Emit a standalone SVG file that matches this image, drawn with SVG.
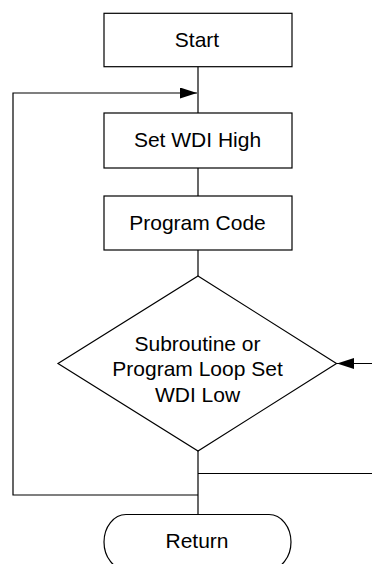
<svg xmlns="http://www.w3.org/2000/svg" width="372" height="564" viewBox="0 0 372 564">
<style>
.shape{fill:#fff;stroke:#000;stroke-width:1.2}
.conn{fill:none;stroke:#000;stroke-width:1.2}
.lbl{font-family:"Liberation Sans",Arial,sans-serif;font-size:21px;fill:#000;text-anchor:middle}
</style>
<defs>
<marker id="arr" markerWidth="18" markerHeight="11" refX="17" refY="5.5" orient="auto" markerUnits="userSpaceOnUse">
<path d="M0,0 L17,5.5 L0,11 Z" fill="#000"/>
</marker>
</defs>
<rect width="372" height="564" fill="#fff"/>
<g id="connectors">
<line class="conn" x1="198" y1="67" x2="198" y2="113"/>
<polyline class="conn" points="198,495 13,495 13,93 197,93" marker-end="url(#arr)"/>
<line class="conn" x1="198" y1="168" x2="198" y2="196"/>
<line class="conn" x1="198" y1="250" x2="198" y2="276"/>
<line class="conn" x1="198" y1="451" x2="198" y2="514.5"/>
<line class="conn" x1="372" y1="473.5" x2="198" y2="473.5"/>
<line class="conn" x1="372" y1="363.5" x2="337" y2="363.5" marker-end="url(#arr)"/>
</g>
<g id="start">
<rect class="shape" x="104" y="13.3" width="188" height="53.4"/>
<text class="lbl" x="197" y="47">Start</text>
</g>
<g id="set-wdi-high">
<rect class="shape" x="104" y="113" width="188" height="55"/>
<text class="lbl" x="197.5" y="147">Set WDI High</text>
</g>
<g id="program-code">
<rect class="shape" x="104" y="196" width="188" height="54"/>
<text class="lbl" x="197.5" y="230">Program Code</text>
</g>
<g id="decision">
<polygon class="shape" points="198,276 336.5,363.5 198,451 58,363.5"/>
<text class="lbl" x="197.5" y="351">Subroutine or</text>
<text class="lbl" x="197.5" y="376">Program Loop Set</text>
<text class="lbl" x="197.5" y="401.5">WDI Low</text>
</g>
<g id="return">
<path class="shape" d="M126,514.5 H269 A22,27.5 0 0 1 269,569.5 H126 A22,27.5 0 0 1 126,514.5 Z"/>
<text class="lbl" x="197" y="548">Return</text>
</g>
</svg>
